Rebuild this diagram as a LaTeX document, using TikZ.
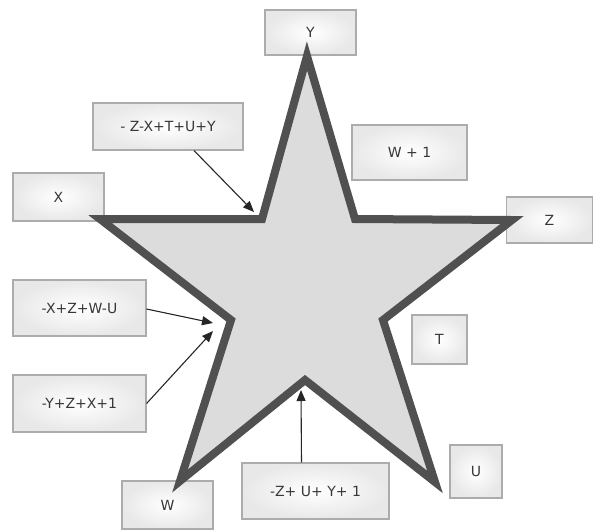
\documentclass[tikz,border=0pt]{standalone}
\usepackage{fontspec}
\setmainfont{DejaVu Sans}
\usepackage{tikz}
\usetikzlibrary{arrows.meta}
\definecolor{edgegray}{RGB}{80,80,80}
\definecolor{stargray}{RGB}{220,220,220}
\definecolor{textgray}{RGB}{55,55,55}

\begin{document}
\begin{tikzpicture}[x=1pt, y=-1pt,
  box/.style={draw=gray!65, line width=1.1pt, inner color=white, outer color=gray!18,
              align=center, text=textgray, font=\fontsize{14}{16}\selectfont},
  arr/.style={-{Triangle[length=11pt,width=9pt]}, line width=1.1pt, draw=black!85}]
\useasboundingbox (0,0) rectangle (594,531);
% labels at the tips
\node[box, minimum width=91pt, minimum height=45pt] (ty) at (310.5,32.5) {Y};
\node[box, minimum width=91pt, minimum height=48pt] (tx) at (58.5,197) {X};
\node[box, minimum width=86pt, minimum height=46pt] (tz) at (549.5,220) {Z};
\node[box, minimum width=91pt, minimum height=48pt] (tw) at (167.5,505) {W};
\node[box, minimum width=55pt, minimum height=49pt] (tt) at (439.5,339.5) {T};
\node[box, minimum width=52pt, minimum height=53pt] (tu) at (476,471.5) {U};
% sums
\node[box, minimum width=115pt, minimum height=55pt] (wone) at (409.5,152.5) {W + 1};
\node[box, minimum width=150pt, minimum height=47pt] (zxt) at (168,126.5) {- Z-X+T+U+Y};
\node[box, minimum width=133pt, minimum height=56pt] (xzw) at (79.5,308) {-X+Z+W-U};
\node[box, minimum width=133pt, minimum height=57pt] (yzx) at (79.5,403.5) {-Y+Z+X+1};
\node[box, minimum width=147pt, minimum height=56pt] (zuy) at (315.5,491) {-Z+ U+ Y+ 1};
% the star
\coordinate (sy) at (307,56);
\coordinate (si1) at (355,219);
\coordinate (sz) at (512,220);
\coordinate (si2) at (383,320);
\coordinate (su) at (435,482);
\coordinate (si3) at (305,380);
\coordinate (sw) at (180,481);
\coordinate (si4) at (231,320);
\coordinate (sx) at (100,219);
\coordinate (si5) at (262,219);
\draw[draw=edgegray, line width=8pt, fill=stargray]
  (sy) -- (si1) -- (sz) -- (si2) -- (su) -- (si3) -- (sw) -- (si4) -- (sx) -- (si5) -- cycle;
% arrow ends
\coordinate (e1) at (254,212);
\coordinate (e2) at (213,323);
\coordinate (e3) at (213,331);
\coordinate (e4) at (301,390);
\draw[arr] ([xshift=26pt]zxt.south) -- (e1);
\draw[arr] ([yshift=-1pt]xzw.east) -- (e2);
\draw[arr] (yzx.east) -- (e3);
\draw[arr] ([xshift=-14pt]zuy.north) -- (e4);
\end{tikzpicture}
\end{document}
